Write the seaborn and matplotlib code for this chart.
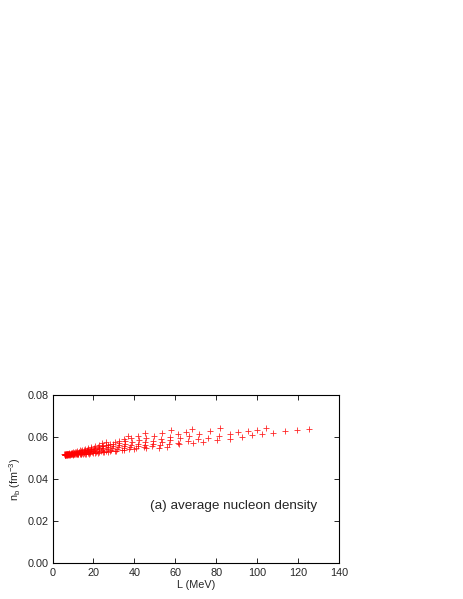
import numpy as np
import pandas as pd
import matplotlib
matplotlib.use('Agg')
import matplotlib.pyplot as plt
import seaborn as sns

# L (MeV) and average nucleon density n_b (fm^-3), one list pair per model family
L1 = [5.8, 6.3, 6.9, 7.5, 8.2, 9.0, 9.9, 10.9, 12.0, 13.2, 14.5, 15.9, 17.4, 19.0, 20.7, 22.5, 24.3, 26.2]
n1 = [.0520, .0521, .0522, .0523, .0525, .0527, .0529, .0532, .0535, .0538, .0542, .0546, .0550, .0555, .0560, .0566, .0572, .0578]

L2 = [5.9, 6.5, 7.1, 7.8, 8.6, 9.5, 10.5, 11.6, 12.8, 14.1, 15.5, 17.0, 18.6, 20.3, 22.1, 24.0, 26.0, 28.1, 30.3, 32.6, 35.0, 37.0]
n2 = [.0519, .0520, .0521, .0522, .0523, .0525, .0527, .0529, .0532, .0535, .0538, .0542, .0546, .0550, .0555, .0560, .0565, .0571, .0578, .0585, .0595, .0605]

L3 = [6.0, 6.6, 7.3, 8.0, 8.8, 9.7, 10.7, 11.8, 13.0, 14.3, 15.7, 17.2, 18.9, 20.7, 22.7, 24.9, 27.2, 29.7, 32.4, 35.3, 38.4, 41.7, 45.2]
n3 = [.0518, .0519, .0520, .0521, .0522, .0524, .0526, .0528, .0530, .0533, .0536, .0539, .0543, .0547, .0552, .0557, .0563, .0569, .0576, .0584, .0596, .0608, .0621]

L4 = [6.1, 6.8, 7.5, 8.3, 9.2, 10.2, 11.3, 12.5, 13.8, 15.2, 16.8, 18.5, 20.4, 22.5, 24.8, 27.2, 29.8, 32.6, 35.6, 38.8, 42.2, 45.8, 49.6, 53.6, 57.8]
n4 = [.0518, .0519, .0520, .0521, .0522, .0523, .0525, .0527, .0529, .0531, .0534, .0537, .0540, .0544, .0548, .0553, .0558, .0564, .0571, .0579, .0588, .0598, .0609, .0621, .0635]

L5 = [6.2, 6.9, 7.7, 8.6, 9.6, 10.7, 11.9, 13.2, 14.6, 16.2, 17.9, 19.8, 21.9, 24.2, 26.7, 29.3, 32.1, 35.1, 38.3, 41.7, 45.3, 49.1, 53.1, 57.3, 61.5, 65.4, 68.4]
n5 = [.0518, .0519, .0519, .0520, .0521, .0522, .0523, .0525, .0527, .0529, .0531, .0534, .0537, .0540, .0544, .0548, .0553, .0558, .0564, .0570, .0577, .0585, .0594, .0604, .0616, .0628, .0640]

L6 = [6.3, 7.1, 8.0, 9.0, 10.1, 11.3, 12.6, 14.0, 15.6, 17.3, 19.2, 21.3, 23.6, 26.1, 28.8, 31.7, 34.8, 38.1, 41.6, 45.3, 49.2, 53.3, 57.6, 62.1, 66.8, 71.7, 76.8, 82.0]
n6 = [.0518, .0518, .0519, .0520, .0520, .0521, .0522, .0523, .0525, .0527, .0529, .0531, .0534, .0537, .0540, .0544, .0548, .0553, .0558, .0564, .0571, .0578, .0586, .0596, .0607, .0618, .0631, .0645]

L7 = [6.4, 7.3, 8.3, 9.4, 10.6, 11.9, 13.3, 14.9, 16.6, 18.5, 20.6, 22.9, 25.4, 28.1, 31.0, 34.1, 37.4, 40.9, 44.6, 48.5, 52.6, 56.9, 61.4, 66.1, 71.0, 76.1, 81.4, 86.9, 90.8, 95.7, 99.9, 104.4]
n7 = [.0517, .0518, .0518, .0519, .0519, .0520, .0521, .0522, .0523, .0525, .0527, .0529, .0531, .0534, .0537, .0540, .0544, .0548, .0553, .0558, .0563, .0569, .0576, .0583, .0591, .0599, .0608, .0616, .0624, .0631, .0637, .0644]

L8 = [6.5, 7.5, 8.6, 9.8, 11.1, 12.5, 14.1, 15.8, 17.7, 19.8, 22.1, 24.6, 27.3, 30.6, 34.9, 40.0, 45.5, 51.8, 55.9, 61.6, 68.6, 73.5, 80.2, 86.8, 92.8, 97.4, 102.2, 107.9, 113.6, 119.4, 125.5]
n8 = [.0517, .0517, .0518, .0518, .0519, .0520, .0521, .0522, .0523, .0525, .0527, .0529, .0531, .0535, .0541, .0546, .0548, .0549, .0553, .0568, .0576, .0580, .0588, .0593, .0604, .0610, .0618, .0623, .0630, .0634, .0639]

df = pd.DataFrame({
    'L': L1 + L2 + L3 + L4 + L5 + L6 + L7 + L8,
    'nb': n1 + n2 + n3 + n4 + n5 + n6 + n7 + n8,
})

sns.set_style('ticks')
plt.rcParams['font.family'] = ['Liberation Sans', 'DejaVu Sans']
plt.rcParams['mathtext.default'] = 'regular'

fig = plt.figure(figsize=(4.63, 5.99), dpi=100)
ax = fig.add_axes([0.1134, 0.0593, 0.6188, 0.2805])

sns.scatterplot(data=df, x='L', y='nb', marker='+', color='red', s=22,
                linewidth=0.6, alpha=0.85, ax=ax, legend=False)

ax.set_xlim(0, 140)
ax.set_ylim(0, 0.08)
ax.set_xticks(np.arange(0, 141, 20))
ax.set_yticks([0.0, 0.02, 0.04, 0.06, 0.08])
ax.set_yticklabels(['0.00', '0.02', '0.04', '0.06', '0.08'])
ax.tick_params(direction='in', top=True, right=True, length=3.5, width=0.7,
               labelsize=7.8, pad=3)
for s in ax.spines.values():
    s.set_linewidth(0.8)
    s.set_color('black')

ax.set_xlabel('L (MeV)', fontsize=7.8, labelpad=2)
ax.set_ylabel(r'n$_b$ (fm$^{-3}$)', fontsize=7.8, labelpad=3)
ax.text(47.5, 0.0275, '(a) average nucleon density', fontsize=9.7, va='center')

fig.savefig('out.png', dpi=100)
